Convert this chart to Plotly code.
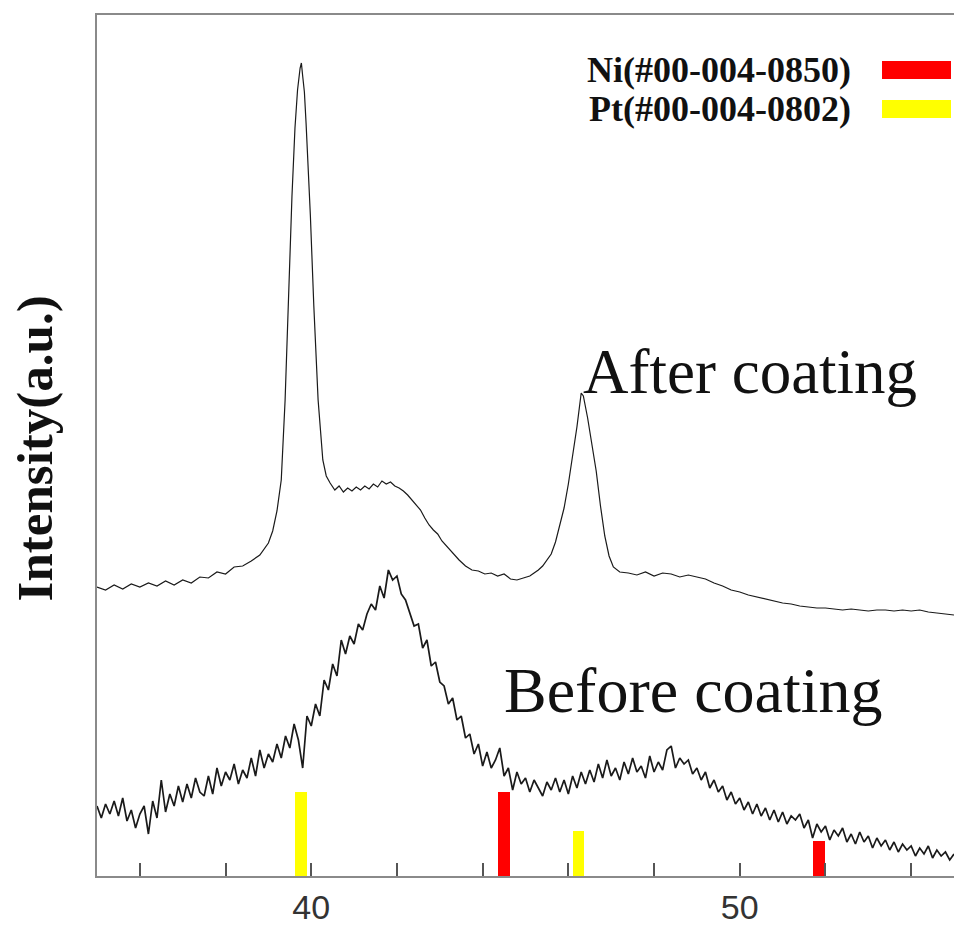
import plotly.graph_objects as go

# ---------------- data ----------------
# "After coating" pattern (2-theta, intensity a.u.)
after_x = [35.0, 35.2, 35.4, 35.6, 35.8, 36.0, 36.2, 36.4, 36.6, 36.8, 37.0, 37.2, 37.4, 37.6, 37.8,
           38.0, 38.2, 38.4, 38.6, 38.8, 39.0, 39.1, 39.2, 39.3, 39.39, 39.47, 39.55, 39.62, 39.68,
           39.74, 39.77, 39.80, 39.84, 39.88, 39.93, 39.98, 40.06, 40.16, 40.27, 40.35, 40.44,
           40.55, 40.65, 40.75, 40.85, 40.95, 41.05, 41.15, 41.25, 41.35, 41.45, 41.55, 41.65, 41.75,
           41.85, 41.95, 42.05, 42.15, 42.25, 42.35, 42.45, 42.55, 42.65, 42.75, 42.85, 42.95, 43.05,
           43.15, 43.3, 43.45, 43.6, 43.75, 43.9, 44.05, 44.2, 44.35, 44.5, 44.65, 44.8, 44.95, 45.1,
           45.2, 45.3, 45.4, 45.5, 45.6, 45.7, 45.8, 45.9, 46.0, 46.1, 46.2, 46.3, 46.35, 46.45, 46.55,
           46.65, 46.75, 46.85, 46.95, 47.05, 47.2, 47.4, 47.6, 47.8, 48.0, 48.2, 48.4, 48.6, 48.8,
           49.0, 49.2, 49.4, 49.6, 49.8, 50.0, 50.2, 50.4, 50.6, 50.8, 51.0, 51.2, 51.4, 51.6, 51.8,
           52.0, 52.2, 52.4, 52.6, 52.8, 53.0, 53.2, 53.4, 53.6, 53.8, 54.0, 54.2, 54.4, 54.6, 54.8, 55.0]
after_y = [289, 286, 291, 287, 292, 289, 293, 290, 295, 291, 296, 293, 299, 298, 304,
           302, 309, 310, 315, 321, 333, 345, 365, 396, 476, 590, 680, 748, 786,
           808, 813, 800, 784, 752, 712, 660, 570, 476, 416, 400, 393,
           386, 390, 384, 388, 385, 389, 386, 390, 387, 392, 389, 395, 392,
           394, 390, 388, 385, 381, 376, 371, 366, 358, 351, 346, 342, 335,
           330, 323, 316, 310, 306, 305, 302, 303, 300, 302, 297, 296, 298, 300,
           303, 306, 310, 316, 322, 334, 350, 368, 392, 420, 449, 483, 480, 458, 432,
           405, 370, 340, 320, 309, 304, 303, 301, 304, 300, 303, 302, 299, 301,
           299, 297, 293, 290, 286, 284, 281, 279, 277, 275, 273, 272, 270, 269, 268,
           268, 267, 266, 267, 266, 265, 266, 266, 265, 266, 265, 266, 264, 263, 262, 261]

# "Before coating" pattern, 35.0 .. 55.0 step 0.1
before_x = [round(35.0 + 0.1 * i, 1) for i in range(201)]
before_y = [70, 58, 72, 62, 75, 60, 78, 55, 66, 48,
            62, 70, 42, 75, 58, 96, 64, 82, 70, 90,
            74, 92, 78, 98, 84, 80, 100, 82, 108, 90,
            104, 96, 112, 92, 106, 98, 118, 100, 126, 108,
            122, 114, 132, 118, 140, 128, 152, 136, 108, 160,
            150, 172, 160, 196, 186, 212, 200, 236, 222, 240,
            232, 252, 246, 262, 272, 266, 290, 278, 306, 296,
            300, 282, 276, 262, 250, 252, 228, 236, 210, 214,
            194, 190, 172, 178, 156, 160, 138, 142, 122, 132,
            110, 124, 108, 116, 128, 100, 108, 86, 104, 92,
            98, 84, 96, 88, 80, 94, 86, 98, 84, 96,
            82, 100, 88, 104, 92, 106, 94, 112, 98, 116,
            100, 108, 96, 114, 102, 118, 104, 110, 98, 120,
            104, 114, 106, 126, 130, 108, 118, 112, 116, 102,
            108, 96, 104, 88, 96, 84, 90, 76, 84, 72,
            78, 66, 74, 62, 72, 60, 68, 56, 66, 54,
            64, 52, 60, 56, 62, 48, 56, 38, 52, 44,
            50, 36, 46, 40, 48, 34, 42, 32, 44, 34,
            40, 28, 38, 30, 36, 26, 34, 24, 32, 26,
            30, 20, 28, 22, 30, 18, 26, 20, 24, 16,
            22]

# Reference lines (JCPDS cards)
ni_pos = [44.5, 51.85]
ni_int = [84, 35]
pt_pos = [39.76, 46.24]
pt_int = [84, 45]

legend_labels = ["Ni(#00-004-0850)", "Pt(#00-004-0802)"]
legend_colors = ["#ff0000", "#ffff00"]

tick_vals = [36, 38, 40, 42, 44, 46, 48, 50, 52, 54]
tick_text = ["", "", "40", "", "", "", "", "50", "", ""]

# ---------------- figure ----------------
fig = go.Figure()

fig.add_trace(go.Bar(x=pt_pos, y=pt_int, width=0.27, marker=dict(color="#ffff00", line=dict(width=0)),
                     showlegend=False))
fig.add_trace(go.Bar(x=ni_pos, y=ni_int, width=0.27, marker=dict(color="#ff0000", line=dict(width=0)),
                     showlegend=False))

fig.add_trace(go.Scatter(x=before_x, y=before_y, mode="lines",
                         line=dict(color="#1a1a1a", width=1.7), showlegend=False))
fig.add_trace(go.Scatter(x=after_x, y=after_y, mode="lines",
                         line=dict(color="#1a1a1a", width=1.2), showlegend=False))

serif = "Liberation Serif, Times New Roman, serif"

fig.add_annotation(x=46.3, y=504, xref="x", yref="y", text="After coating", showarrow=False,
                   xanchor="left", yanchor="middle", font=dict(family=serif, size=63, color="#111"))
fig.add_annotation(x=44.45, y=186, xref="x", yref="y", text="Before coating", showarrow=False,
                   xanchor="left", yanchor="middle", font=dict(family=serif, size=64, color="#111"))

fig.add_annotation(x=-0.072, y=0.497, xref="paper", yref="paper", text="<b>Intensity(a.u.)</b>",
                   textangle=-90, showarrow=False, xanchor="center", yanchor="middle",
                   font=dict(family=serif, size=51, color="#111"))

leg_y = [806, 767]
for lab, col, yy in zip(legend_labels, legend_colors, leg_y):
    fig.add_annotation(x=52.64, y=yy, xref="x", yref="y", text="<b>" + lab + "</b>", showarrow=False,
                       xanchor="right", yanchor="middle", font=dict(family=serif, size=36, color="#111"))
    fig.add_shape(type="rect", xref="x", yref="y", x0=53.32, x1=54.93, y0=yy - 9, y1=yy + 9,
                  fillcolor=col, line=dict(width=0))

fig.update_layout(
    width=954, height=925,
    margin=dict(l=97, r=0, t=15, b=49, autoexpand=False),
    plot_bgcolor="white", paper_bgcolor="white",
    barmode="overlay", bargap=0,
    showlegend=False,
)
fig.update_xaxes(range=[35, 55], showgrid=False, zeroline=False, automargin=False,
                 showline=True, linecolor="#8a8a8a", linewidth=2, mirror=True,
                 ticks="inside", ticklen=13, tickwidth=1.5, tickcolor="#555",
                 tickvals=tick_vals, ticktext=tick_text, ticklabelstandoff=0,
                 tickfont=dict(family="Liberation Sans, Arial, sans-serif", size=34, color="#333"))
fig.update_yaxes(range=[0, 861], showgrid=False, zeroline=False, automargin=False,
                 showline=True, linecolor="#8a8a8a", linewidth=2,
                 showticklabels=False, ticks="")

fig.write_html("out.html")
